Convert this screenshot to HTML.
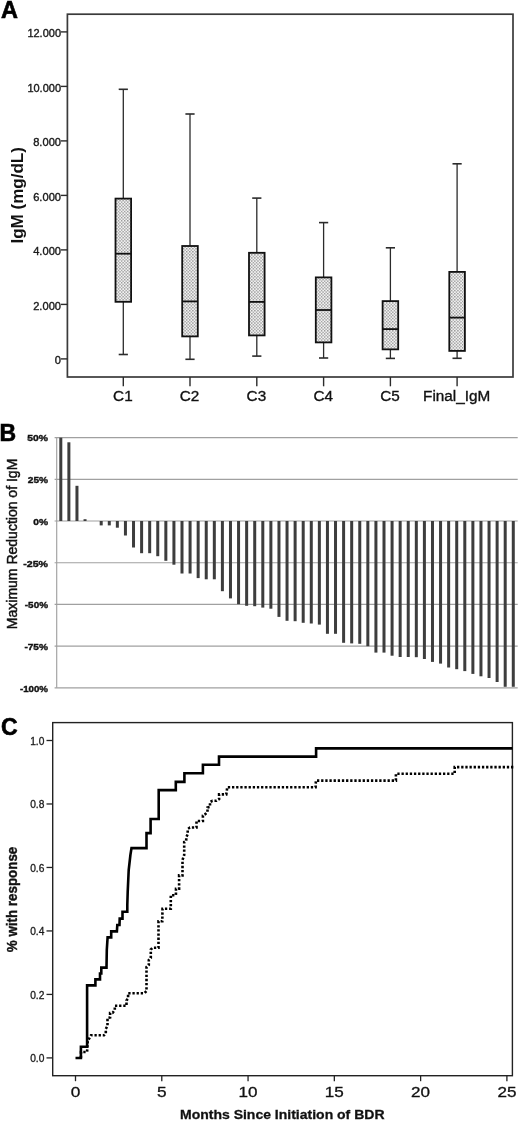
<!DOCTYPE html>
<html><head><meta charset="utf-8"><title>Figure</title>
<style>
html,body{margin:0;padding:0;background:#fff;}
body{width:520px;height:1121px;overflow:hidden;font-family:"Liberation Sans", sans-serif;}
svg{display:block;font-family:"Liberation Sans", sans-serif;will-change:transform;}
</style></head>
<body>
<svg width="520" height="1121" viewBox="0 0 520 1121">
<defs>
<pattern id="chk" width="3.1" height="3.1" patternUnits="userSpaceOnUse">
<rect width="3.1" height="3.1" fill="#f2f2f2"/>
<rect width="1.35" height="1.35" fill="#959595"/>
<rect x="1.55" y="1.55" width="1.35" height="1.35" fill="#959595"/>
</pattern>
</defs>
<rect width="520" height="1121" fill="#fff"/>
<g id="A">
<text x="0.9" y="18.0" font-size="23.5" text-anchor="start" font-weight="bold" fill="#000" stroke="#000" stroke-width="0.6">A</text>
<rect x="67.4" y="14.2" width="445.6" height="362.8" fill="none" stroke="#3a3a3a" stroke-width="1.7"/>
<line x1="61" y1="358.90" x2="67.4" y2="358.90" stroke="#2b2b2b" stroke-width="1.4"/>
<text x="61.0" y="364.3" font-size="10.6" text-anchor="end" font-weight="normal" fill="#1a1a1a" textLength="6.2" lengthAdjust="spacingAndGlyphs" stroke="#1a1a1a" stroke-width="0.35">0</text>
<line x1="61" y1="304.40" x2="67.4" y2="304.40" stroke="#2b2b2b" stroke-width="1.4"/>
<text x="61.0" y="309.8" font-size="10.6" text-anchor="end" font-weight="normal" fill="#1a1a1a" textLength="27.8" lengthAdjust="spacingAndGlyphs" stroke="#1a1a1a" stroke-width="0.35">2.000</text>
<line x1="61" y1="249.90" x2="67.4" y2="249.90" stroke="#2b2b2b" stroke-width="1.4"/>
<text x="61.0" y="255.3" font-size="10.6" text-anchor="end" font-weight="normal" fill="#1a1a1a" textLength="27.8" lengthAdjust="spacingAndGlyphs" stroke="#1a1a1a" stroke-width="0.35">4.000</text>
<line x1="61" y1="195.40" x2="67.4" y2="195.40" stroke="#2b2b2b" stroke-width="1.4"/>
<text x="61.0" y="200.8" font-size="10.6" text-anchor="end" font-weight="normal" fill="#1a1a1a" textLength="27.8" lengthAdjust="spacingAndGlyphs" stroke="#1a1a1a" stroke-width="0.35">6.000</text>
<line x1="61" y1="140.90" x2="67.4" y2="140.90" stroke="#2b2b2b" stroke-width="1.4"/>
<text x="61.0" y="146.3" font-size="10.6" text-anchor="end" font-weight="normal" fill="#1a1a1a" textLength="27.8" lengthAdjust="spacingAndGlyphs" stroke="#1a1a1a" stroke-width="0.35">8.000</text>
<line x1="61" y1="86.40" x2="67.4" y2="86.40" stroke="#2b2b2b" stroke-width="1.4"/>
<text x="61.0" y="91.8" font-size="10.6" text-anchor="end" font-weight="normal" fill="#1a1a1a" textLength="33.6" lengthAdjust="spacingAndGlyphs" stroke="#1a1a1a" stroke-width="0.35">10.000</text>
<line x1="61" y1="31.90" x2="67.4" y2="31.90" stroke="#2b2b2b" stroke-width="1.4"/>
<text x="61.0" y="37.3" font-size="10.6" text-anchor="end" font-weight="normal" fill="#1a1a1a" textLength="33.6" lengthAdjust="spacingAndGlyphs" stroke="#1a1a1a" stroke-width="0.35">12.000</text>
<text transform="translate(22.6,243.6) rotate(-90)" font-size="16" font-weight="bold" fill="#111" textLength="96.5" lengthAdjust="spacingAndGlyphs">IgM (mg/dL)</text>
<line x1="123.3" y1="89.3" x2="123.3" y2="198.6" stroke="#2b2b2b" stroke-width="1.3"/>
<line x1="123.3" y1="301.8" x2="123.3" y2="354.5" stroke="#2b2b2b" stroke-width="1.3"/>
<line x1="118.7" y1="89.3" x2="127.89999999999999" y2="89.3" stroke="#2b2b2b" stroke-width="1.6"/>
<line x1="118.7" y1="354.5" x2="127.89999999999999" y2="354.5" stroke="#2b2b2b" stroke-width="1.6"/>
<rect x="115.50" y="198.6" width="15.6" height="103.20" fill="url(#chk)" stroke="#111" stroke-width="1.8"/>
<line x1="115.50" y1="253.7" x2="131.10" y2="253.7" stroke="#111" stroke-width="1.8"/>
<line x1="123.3" y1="377.0" x2="123.3" y2="386.3" stroke="#2b2b2b" stroke-width="1.4"/>
<text x="122.89999999999999" y="401.3" font-size="15.3" text-anchor="middle" font-weight="normal" fill="#111" stroke="#111" stroke-width="0.35">C1</text>
<line x1="190.0" y1="114.0" x2="190.0" y2="246.0" stroke="#2b2b2b" stroke-width="1.3"/>
<line x1="190.0" y1="336.40000000000003" x2="190.0" y2="359.3" stroke="#2b2b2b" stroke-width="1.3"/>
<line x1="185.4" y1="114.0" x2="194.6" y2="114.0" stroke="#2b2b2b" stroke-width="1.6"/>
<line x1="185.4" y1="359.3" x2="194.6" y2="359.3" stroke="#2b2b2b" stroke-width="1.6"/>
<rect x="182.20" y="246.0" width="15.6" height="90.40" fill="url(#chk)" stroke="#111" stroke-width="1.8"/>
<line x1="182.20" y1="301.4" x2="197.80" y2="301.4" stroke="#111" stroke-width="1.8"/>
<line x1="190.0" y1="377.0" x2="190.0" y2="386.3" stroke="#2b2b2b" stroke-width="1.4"/>
<text x="189.6" y="401.3" font-size="15.3" text-anchor="middle" font-weight="normal" fill="#111" stroke="#111" stroke-width="0.35">C2</text>
<line x1="256.8" y1="198.1" x2="256.8" y2="252.79999999999998" stroke="#2b2b2b" stroke-width="1.3"/>
<line x1="256.8" y1="335.40000000000003" x2="256.8" y2="356.1" stroke="#2b2b2b" stroke-width="1.3"/>
<line x1="252.20000000000002" y1="198.1" x2="261.40000000000003" y2="198.1" stroke="#2b2b2b" stroke-width="1.6"/>
<line x1="252.20000000000002" y1="356.1" x2="261.40000000000003" y2="356.1" stroke="#2b2b2b" stroke-width="1.6"/>
<rect x="249.00" y="252.79999999999998" width="15.6" height="82.60" fill="url(#chk)" stroke="#111" stroke-width="1.8"/>
<line x1="249.00" y1="301.9" x2="264.60" y2="301.9" stroke="#111" stroke-width="1.8"/>
<line x1="256.8" y1="377.0" x2="256.8" y2="386.3" stroke="#2b2b2b" stroke-width="1.4"/>
<text x="256.40000000000003" y="401.3" font-size="15.3" text-anchor="middle" font-weight="normal" fill="#111" stroke="#111" stroke-width="0.35">C3</text>
<line x1="323.6" y1="222.6" x2="323.6" y2="277.40000000000003" stroke="#2b2b2b" stroke-width="1.3"/>
<line x1="323.6" y1="342.40000000000003" x2="323.6" y2="358.0" stroke="#2b2b2b" stroke-width="1.3"/>
<line x1="319.0" y1="222.6" x2="328.20000000000005" y2="222.6" stroke="#2b2b2b" stroke-width="1.6"/>
<line x1="319.0" y1="358.0" x2="328.20000000000005" y2="358.0" stroke="#2b2b2b" stroke-width="1.6"/>
<rect x="315.80" y="277.40000000000003" width="15.6" height="65.00" fill="url(#chk)" stroke="#111" stroke-width="1.8"/>
<line x1="315.80" y1="310.0" x2="331.40" y2="310.0" stroke="#111" stroke-width="1.8"/>
<line x1="323.6" y1="377.0" x2="323.6" y2="386.3" stroke="#2b2b2b" stroke-width="1.4"/>
<text x="323.20000000000005" y="401.3" font-size="15.3" text-anchor="middle" font-weight="normal" fill="#111" stroke="#111" stroke-width="0.35">C4</text>
<line x1="390.4" y1="247.8" x2="390.4" y2="301.1" stroke="#2b2b2b" stroke-width="1.3"/>
<line x1="390.4" y1="349.35" x2="390.4" y2="358.4" stroke="#2b2b2b" stroke-width="1.3"/>
<line x1="385.79999999999995" y1="247.8" x2="395.0" y2="247.8" stroke="#2b2b2b" stroke-width="1.6"/>
<line x1="385.79999999999995" y1="358.4" x2="395.0" y2="358.4" stroke="#2b2b2b" stroke-width="1.6"/>
<rect x="382.60" y="301.1" width="15.6" height="48.25" fill="url(#chk)" stroke="#111" stroke-width="1.8"/>
<line x1="382.60" y1="329.1" x2="398.20" y2="329.1" stroke="#111" stroke-width="1.8"/>
<line x1="390.4" y1="377.0" x2="390.4" y2="386.3" stroke="#2b2b2b" stroke-width="1.4"/>
<text x="390.0" y="401.3" font-size="15.3" text-anchor="middle" font-weight="normal" fill="#111" stroke="#111" stroke-width="0.35">C5</text>
<line x1="457.1" y1="163.8" x2="457.1" y2="271.90000000000003" stroke="#2b2b2b" stroke-width="1.3"/>
<line x1="457.1" y1="350.90000000000003" x2="457.1" y2="358.3" stroke="#2b2b2b" stroke-width="1.3"/>
<line x1="452.5" y1="163.8" x2="461.70000000000005" y2="163.8" stroke="#2b2b2b" stroke-width="1.6"/>
<line x1="452.5" y1="358.3" x2="461.70000000000005" y2="358.3" stroke="#2b2b2b" stroke-width="1.6"/>
<rect x="449.30" y="271.90000000000003" width="15.6" height="79.00" fill="url(#chk)" stroke="#111" stroke-width="1.8"/>
<line x1="449.30" y1="317.6" x2="464.90" y2="317.6" stroke="#111" stroke-width="1.8"/>
<line x1="457.1" y1="377.0" x2="457.1" y2="386.3" stroke="#2b2b2b" stroke-width="1.4"/>
<text x="456.70000000000005" y="401.3" font-size="15.3" text-anchor="middle" font-weight="normal" fill="#111" stroke="#111" stroke-width="0.35">Final_IgM</text>
</g>
<g id="B">
<text x="-0.5" y="440.9" font-size="23.0" text-anchor="start" font-weight="bold" fill="#000" stroke="#000" stroke-width="0.6">B</text>
<line x1="54.6" y1="437.60" x2="517.7" y2="437.60" stroke="#a0a0a0" stroke-width="1.15"/>
<text x="48.0" y="440.9" font-size="9.5" text-anchor="end" font-weight="bold" fill="#111" textLength="20.7" lengthAdjust="spacingAndGlyphs" stroke="#111" stroke-width="0.4">50%</text>
<line x1="54.6" y1="479.30" x2="517.7" y2="479.30" stroke="#a0a0a0" stroke-width="1.15"/>
<text x="48.0" y="483.2" font-size="9.5" text-anchor="end" font-weight="bold" fill="#111" textLength="20.2" lengthAdjust="spacingAndGlyphs" stroke="#111" stroke-width="0.4">25%</text>
<line x1="54.6" y1="521.00" x2="517.7" y2="521.00" stroke="#a0a0a0" stroke-width="1.15"/>
<text x="48.0" y="524.9" font-size="9.5" text-anchor="end" font-weight="bold" fill="#111" textLength="14.8" lengthAdjust="spacingAndGlyphs" stroke="#111" stroke-width="0.4">0%</text>
<line x1="54.6" y1="562.70" x2="517.7" y2="562.70" stroke="#a0a0a0" stroke-width="1.15"/>
<text x="48.0" y="566.6" font-size="9.5" text-anchor="end" font-weight="bold" fill="#111" textLength="24.7" lengthAdjust="spacingAndGlyphs" stroke="#111" stroke-width="0.4">-25%</text>
<line x1="54.6" y1="604.40" x2="517.7" y2="604.40" stroke="#a0a0a0" stroke-width="1.15"/>
<text x="48.0" y="608.3" font-size="9.5" text-anchor="end" font-weight="bold" fill="#111" textLength="23.2" lengthAdjust="spacingAndGlyphs" stroke="#111" stroke-width="0.4">-50%</text>
<line x1="54.6" y1="646.10" x2="517.7" y2="646.10" stroke="#a0a0a0" stroke-width="1.15"/>
<text x="48.0" y="650.0" font-size="9.5" text-anchor="end" font-weight="bold" fill="#111" textLength="23.6" lengthAdjust="spacingAndGlyphs" stroke="#111" stroke-width="0.4">-75%</text>
<line x1="54.6" y1="687.80" x2="517.7" y2="687.80" stroke="#a0a0a0" stroke-width="1.15"/>
<text x="48.0" y="691.7" font-size="9.5" text-anchor="end" font-weight="bold" fill="#111" textLength="28.1" lengthAdjust="spacingAndGlyphs" stroke="#111" stroke-width="0.4">-100%</text>
<line x1="56.7" y1="437.60" x2="56.7" y2="687.80" stroke="#a0a0a0" stroke-width="1.15"/>
<text transform="translate(17.3,629.2) rotate(-90)" font-size="13.8" fill="#111" stroke="#111" stroke-width="0.45" textLength="170.5" lengthAdjust="spacingAndGlyphs">Maximum Reduction of IgM</text>
<rect x="59.30" y="437.70" width="3.0" height="83.30" fill="#3d3d3d"/>
<rect x="67.38" y="442.30" width="3.0" height="78.70" fill="#3d3d3d"/>
<rect x="75.46" y="485.80" width="3.0" height="35.20" fill="#3d3d3d"/>
<rect x="83.54" y="519.20" width="3.0" height="1.80" fill="#3d3d3d"/>
<rect x="99.70" y="521.00" width="3.0" height="4.40" fill="#3d3d3d"/>
<rect x="107.78" y="521.00" width="3.0" height="4.40" fill="#3d3d3d"/>
<rect x="115.86" y="521.00" width="3.0" height="6.70" fill="#3d3d3d"/>
<rect x="123.94" y="521.00" width="3.0" height="14.50" fill="#3d3d3d"/>
<rect x="132.02" y="521.00" width="3.0" height="26.50" fill="#3d3d3d"/>
<rect x="140.10" y="521.00" width="3.0" height="32.20" fill="#3d3d3d"/>
<rect x="148.18" y="521.00" width="3.0" height="32.20" fill="#3d3d3d"/>
<rect x="156.26" y="521.00" width="3.0" height="35.20" fill="#3d3d3d"/>
<rect x="164.34" y="521.00" width="3.0" height="39.80" fill="#3d3d3d"/>
<rect x="172.42" y="521.00" width="3.0" height="43.70" fill="#3d3d3d"/>
<rect x="180.50" y="521.00" width="3.0" height="52.50" fill="#3d3d3d"/>
<rect x="188.58" y="521.00" width="3.0" height="52.50" fill="#3d3d3d"/>
<rect x="196.66" y="521.00" width="3.0" height="57.10" fill="#3d3d3d"/>
<rect x="204.74" y="521.00" width="3.0" height="58.30" fill="#3d3d3d"/>
<rect x="212.82" y="521.00" width="3.0" height="58.30" fill="#3d3d3d"/>
<rect x="220.90" y="521.00" width="3.0" height="70.20" fill="#3d3d3d"/>
<rect x="228.98" y="521.00" width="3.0" height="77.40" fill="#3d3d3d"/>
<rect x="237.06" y="521.00" width="3.0" height="83.20" fill="#3d3d3d"/>
<rect x="245.14" y="521.00" width="3.0" height="84.80" fill="#3d3d3d"/>
<rect x="253.22" y="521.00" width="3.0" height="85.20" fill="#3d3d3d"/>
<rect x="261.30" y="521.00" width="3.0" height="86.60" fill="#3d3d3d"/>
<rect x="269.38" y="521.00" width="3.0" height="87.70" fill="#3d3d3d"/>
<rect x="277.46" y="521.00" width="3.0" height="95.90" fill="#3d3d3d"/>
<rect x="285.54" y="521.00" width="3.0" height="99.80" fill="#3d3d3d"/>
<rect x="293.62" y="521.00" width="3.0" height="100.20" fill="#3d3d3d"/>
<rect x="301.70" y="521.00" width="3.0" height="101.80" fill="#3d3d3d"/>
<rect x="309.78" y="521.00" width="3.0" height="102.50" fill="#3d3d3d"/>
<rect x="317.86" y="521.00" width="3.0" height="103.60" fill="#3d3d3d"/>
<rect x="325.94" y="521.00" width="3.0" height="112.80" fill="#3d3d3d"/>
<rect x="334.02" y="521.00" width="3.0" height="112.80" fill="#3d3d3d"/>
<rect x="342.10" y="521.00" width="3.0" height="121.80" fill="#3d3d3d"/>
<rect x="350.18" y="521.00" width="3.0" height="122.40" fill="#3d3d3d"/>
<rect x="358.26" y="521.00" width="3.0" height="122.80" fill="#3d3d3d"/>
<rect x="366.34" y="521.00" width="3.0" height="125.20" fill="#3d3d3d"/>
<rect x="374.42" y="521.00" width="3.0" height="131.60" fill="#3d3d3d"/>
<rect x="382.50" y="521.00" width="3.0" height="131.60" fill="#3d3d3d"/>
<rect x="390.58" y="521.00" width="3.0" height="134.70" fill="#3d3d3d"/>
<rect x="398.66" y="521.00" width="3.0" height="136.00" fill="#3d3d3d"/>
<rect x="406.74" y="521.00" width="3.0" height="136.00" fill="#3d3d3d"/>
<rect x="414.82" y="521.00" width="3.0" height="136.20" fill="#3d3d3d"/>
<rect x="422.90" y="521.00" width="3.0" height="138.00" fill="#3d3d3d"/>
<rect x="430.98" y="521.00" width="3.0" height="140.90" fill="#3d3d3d"/>
<rect x="439.06" y="521.00" width="3.0" height="142.60" fill="#3d3d3d"/>
<rect x="447.14" y="521.00" width="3.0" height="146.50" fill="#3d3d3d"/>
<rect x="455.22" y="521.00" width="3.0" height="148.20" fill="#3d3d3d"/>
<rect x="463.30" y="521.00" width="3.0" height="150.10" fill="#3d3d3d"/>
<rect x="471.38" y="521.00" width="3.0" height="152.90" fill="#3d3d3d"/>
<rect x="479.46" y="521.00" width="3.0" height="155.30" fill="#3d3d3d"/>
<rect x="487.54" y="521.00" width="3.0" height="157.00" fill="#3d3d3d"/>
<rect x="495.62" y="521.00" width="3.0" height="161.00" fill="#3d3d3d"/>
<rect x="503.70" y="521.00" width="3.0" height="165.80" fill="#3d3d3d"/>
<rect x="511.78" y="521.00" width="3.0" height="165.80" fill="#3d3d3d"/>
</g>
<g id="C">
<text x="1.0" y="734.6" font-size="23.0" text-anchor="start" font-weight="bold" fill="#000" stroke="#000" stroke-width="0.6">C</text>
<rect x="52.7" y="722.6" width="459.70" height="353.10" fill="none" stroke="#222" stroke-width="1.4"/>
<line x1="46.5" y1="1057.90" x2="52.7" y2="1057.90" stroke="#222" stroke-width="1.3"/>
<text x="44.4" y="1062.2" font-size="10.2" text-anchor="end" font-weight="normal" fill="#1a1a1a" textLength="14.2" lengthAdjust="spacingAndGlyphs" stroke="#1a1a1a" stroke-width="0.3">0.0</text>
<line x1="46.5" y1="994.42" x2="52.7" y2="994.42" stroke="#222" stroke-width="1.3"/>
<text x="44.4" y="998.72" font-size="10.2" text-anchor="end" font-weight="normal" fill="#1a1a1a" textLength="14.2" lengthAdjust="spacingAndGlyphs" stroke="#1a1a1a" stroke-width="0.3">0.2</text>
<line x1="46.5" y1="930.94" x2="52.7" y2="930.94" stroke="#222" stroke-width="1.3"/>
<text x="44.4" y="935.24" font-size="10.2" text-anchor="end" font-weight="normal" fill="#1a1a1a" textLength="14.2" lengthAdjust="spacingAndGlyphs" stroke="#1a1a1a" stroke-width="0.3">0.4</text>
<line x1="46.5" y1="867.46" x2="52.7" y2="867.46" stroke="#222" stroke-width="1.3"/>
<text x="44.4" y="871.76" font-size="10.2" text-anchor="end" font-weight="normal" fill="#1a1a1a" textLength="14.2" lengthAdjust="spacingAndGlyphs" stroke="#1a1a1a" stroke-width="0.3">0.6</text>
<line x1="46.5" y1="803.98" x2="52.7" y2="803.98" stroke="#222" stroke-width="1.3"/>
<text x="44.4" y="808.28" font-size="10.2" text-anchor="end" font-weight="normal" fill="#1a1a1a" textLength="14.2" lengthAdjust="spacingAndGlyphs" stroke="#1a1a1a" stroke-width="0.3">0.8</text>
<line x1="46.5" y1="740.50" x2="52.7" y2="740.50" stroke="#222" stroke-width="1.3"/>
<text x="44.4" y="744.8" font-size="10.2" text-anchor="end" font-weight="normal" fill="#1a1a1a" textLength="14.2" lengthAdjust="spacingAndGlyphs" stroke="#1a1a1a" stroke-width="0.3">1.0</text>
<line x1="75.50" y1="1075.7" x2="75.50" y2="1081.2" stroke="#222" stroke-width="1.3"/>
<text x="75.5" y="1096.6" font-size="14.6" text-anchor="middle" font-weight="normal" fill="#111" textLength="9.6" lengthAdjust="spacingAndGlyphs" stroke="#111" stroke-width="0.3">0</text>
<line x1="161.78" y1="1075.7" x2="161.78" y2="1081.2" stroke="#222" stroke-width="1.3"/>
<text x="161.78" y="1096.6" font-size="14.6" text-anchor="middle" font-weight="normal" fill="#111" textLength="9.6" lengthAdjust="spacingAndGlyphs" stroke="#111" stroke-width="0.3">5</text>
<line x1="248.06" y1="1075.7" x2="248.06" y2="1081.2" stroke="#222" stroke-width="1.3"/>
<text x="248.06" y="1096.6" font-size="14.6" text-anchor="middle" font-weight="normal" fill="#111" textLength="19.0" lengthAdjust="spacingAndGlyphs" stroke="#111" stroke-width="0.3">10</text>
<line x1="334.34" y1="1075.7" x2="334.34" y2="1081.2" stroke="#222" stroke-width="1.3"/>
<text x="334.34" y="1096.6" font-size="14.6" text-anchor="middle" font-weight="normal" fill="#111" textLength="19.0" lengthAdjust="spacingAndGlyphs" stroke="#111" stroke-width="0.3">15</text>
<line x1="420.62" y1="1075.7" x2="420.62" y2="1081.2" stroke="#222" stroke-width="1.3"/>
<text x="420.62" y="1096.6" font-size="14.6" text-anchor="middle" font-weight="normal" fill="#111" textLength="19.0" lengthAdjust="spacingAndGlyphs" stroke="#111" stroke-width="0.3">20</text>
<line x1="506.90" y1="1075.7" x2="506.90" y2="1081.2" stroke="#222" stroke-width="1.3"/>
<text x="506.9" y="1096.6" font-size="14.6" text-anchor="middle" font-weight="normal" fill="#111" textLength="19.0" lengthAdjust="spacingAndGlyphs" stroke="#111" stroke-width="0.3">25</text>
<text x="180.0" y="1118.9" font-size="13.6" font-weight="bold" fill="#111" stroke="#111" stroke-width="0.3" textLength="204.5" lengthAdjust="spacingAndGlyphs">Months Since Initiation of BDR</text>
<text transform="translate(17.2,952.2) rotate(-90)" font-size="14.8" font-weight="bold" fill="#111" stroke="#111" stroke-width="0.4" textLength="105.5" lengthAdjust="spacingAndGlyphs">% with response</text>
<polyline points="80.9,1058.0 81.0,1052.0 87.1,1052.0 87.4,1046.0 87.8,1040.5 89.5,1038.0 91.0,1035.3 104.0,1035.3 105.8,1033.5 105.8,1029.0 107.5,1026.0 107.5,1018.0 110.1,1017.5 110.1,1013.0 112.7,1012.8 114.8,1010.0 114.8,1005.8 126.5,1005.8 126.5,1000.4 128.1,998.5 128.1,993.2 144.5,993.2 146.5,991.0 146.5,967.0 148.8,965.0 148.8,960.0 150.8,958.0 150.8,949.5 152.5,947.8 158.5,947.8 158.5,921.3 162.3,921.3 162.5,908.8 170.8,908.8 170.8,895.2 175.9,895.2 176.0,888.7 179.1,888.7 179.1,875.4 182.5,875.4 182.5,860.0 184.2,855.0 184.2,842.0 186.2,841.0 186.3,837.0 187.7,834.3 187.7,829.0 190.0,827.5 196.5,827.5 196.5,821.0 202.9,821.0 202.9,815.5 205.5,814.0 207.5,812.0 207.5,807.5 210.0,807.0 210.0,802.0 212.5,800.8 216.5,800.8 219.1,799.0 219.1,794.4 226.3,794.4 226.8,791.0 227.2,787.2 315.6,787.2 315.9,780.6 395.9,780.6 395.9,773.8 454.7,773.8 454.7,767.1 514.5,767.1" fill="none" stroke="#000" stroke-width="2.6" stroke-dasharray="2.3 1.85"/>
<polyline points="75.5,1058.0 80.9,1058.0 80.9,1046.7 87.1,1046.7 87.1,985.4 95.4,985.4 95.4,979.4 100.0,979.4 100.0,973.5 101.3,973.5 101.3,967.6 106.5,967.6 106.8,950.0 107.6,937.4 111.2,937.4 111.2,931.4 116.9,931.4 117.3,925.0 119.5,925.0 119.7,918.6 122.5,918.6 122.5,911.7 127.3,911.7 127.3,904.9 127.7,892.0 128.7,870.0 130.4,855.0 131.5,848.1 146.5,848.1 146.5,833.1 150.6,833.1 150.6,819.0 158.7,819.0 158.7,790.1 175.8,790.1 175.8,781.9 184.4,781.9 184.4,773.3 202.9,773.3 202.9,764.8 219.0,764.8 219.0,756.6 316.1,756.6 316.1,748.4 512.4,748.4" fill="none" stroke="#000" stroke-width="2.6" stroke-linejoin="miter"/>
</g>
</svg>
</body></html>
